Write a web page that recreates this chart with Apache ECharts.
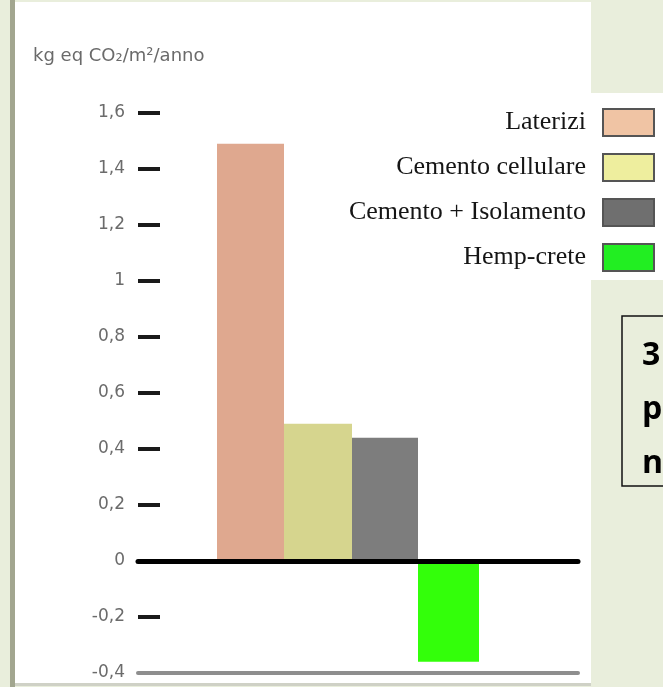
<!DOCTYPE html>
<html>
<head>
<meta charset="utf-8">
<script src="https://cdn.jsdelivr.net/npm/echarts@6/dist/echarts.min.js"></script>
<style>
  html, body { margin: 0; padding: 0; background: #e9eedc; }
  #chart { width: 663px; height: 687px; }
</style>
</head>
<body>
<div id="chart"></div>
<script>
  // materiali e valori (kg eq CO2/m2/anno)
  var materiali = ['Laterizi', 'Cemento cellulare', 'Cemento + Isolamento', 'Hemp-crete'];
  var valori = [1.49, 0.49, 0.44, -0.36];
  var coloriBarre = ['#dfa88f', '#d6d58e', '#7d7d7d', '#33ff0a'];
  var coloriLegenda = ['#f0c4a4', '#eeee9e', '#6f6f6f', '#22ee22'];
  var larghezze = [67, 68, 66, 61];
  // tacche dell'asse y (la -0,4 e' coperta dalla linea grigia)
  var yTacche = [-0.2, 0, 0.2, 0.4, 0.6, 0.8, 1, 1.2, 1.4, 1.6];
  var yMin = -0.4, yMax = 1.6, yStep = 0.2;

  var myChart = echarts.init(document.getElementById('chart'));

  // etichette con la virgola decimale
  function fmt(v) {
    return String(parseFloat(v.toFixed(1))).replace('.', ',');
  }

  var series = materiali.map(function (nome, i) {
    return {
      name: nome,
      type: 'bar',
      xAxisIndex: 2,
      yAxisIndex: 1,
      barWidth: larghezze[i],
      barGap: '0%',
      data: [valori[i]],
      itemStyle: { color: coloriBarre[i] },
      z: 2
    };
  });

  var option = {
    backgroundColor: '#e9eedc',
    animation: false,
    title: {
      text: 'kg eq CO₂/m²/anno',
      left: 33,
      top: 47,
      padding: 0,
      textStyle: { fontFamily: 'DejaVu Sans', fontSize: 18, fontWeight: 'normal', color: '#6a6a6a' }
    },
    legend: {
      orient: 'vertical',
      align: 'right',
      right: 8,
      top: 108,
      padding: 0,
      itemWidth: 51,
      itemHeight: 27,
      itemGap: 16,
      selectedMode: false,
      icon: 'rect',
      textStyle: { fontFamily: 'Liberation Serif', fontSize: 26, color: '#151515', padding: [0, 12, 0, 0], lineHeight: 27 },
      data: materiali.map(function (nome, i) {
        return { name: nome, itemStyle: { color: coloriLegenda[i], borderColor: '#555', borderWidth: 2 } };
      })
    },
    grid: [
      { left: 138, top: 113, width: 440, height: 560 },
      { left: 138, top: 113, width: 420, height: 560 }
    ],
    xAxis: [
      {
        gridIndex: 0, type: 'category', data: [''], position: 'top', z: 3,
        axisLine: { onZero: true, lineStyle: { color: '#000', width: 5 } },
        axisTick: { show: false }, axisLabel: { show: false }
      },
      {
        gridIndex: 0, type: 'category', data: [''], position: 'bottom', z: 3,
        axisLine: { onZero: false, lineStyle: { color: '#8e8e8e', width: 4 } },
        axisTick: { show: false }, axisLabel: { show: false }
      },
      { gridIndex: 1, type: 'category', data: [''], show: false }
    ],
    yAxis: [
      {
        gridIndex: 0, type: 'value', min: yMin, max: yMax, interval: yStep,
        axisLine: { show: false },
        axisTick: { show: true, inside: true, length: 22, customValues: yTacche, lineStyle: { color: '#1a1a1a', width: 4 } },
        axisLabel: { margin: 13, formatter: fmt, fontFamily: 'DejaVu Sans', fontSize: 17, color: '#6b6b6b' },
        splitLine: { show: false }
      },
      { gridIndex: 1, type: 'value', min: yMin, max: yMax, interval: yStep, show: false, splitLine: { show: false } }
    ],
    graphic: [
      { type: 'rect', z: -10, shape: { x: 10, y: 0, width: 5, height: 687 }, style: { fill: '#a2a68f' } },
      { type: 'rect', z: -10, shape: { x: 15, y: 2, width: 576, height: 681 }, style: { fill: '#ffffff' } },
      { type: 'rect', z: -10, shape: { x: 15, y: 683, width: 576, height: 3 }, style: { fill: '#cfd1c6' } },
      { type: 'rect', z: -10, shape: { x: 591, y: 93, width: 72, height: 187 }, style: { fill: '#ffffff' } },
      { type: 'rect', z: 5, shape: { x: 622, y: 316, width: 80, height: 170 }, style: { fill: 'none', stroke: '#111', lineWidth: 1.5 } },
      { type: 'text', z: 5, x: 642, y: 340, style: { text: '3', font: 'bold 32px "Open Sans"', fill: '#000' } },
      { type: 'text', z: 5, x: 642, y: 394, style: { text: 'p', font: 'bold 32px "Open Sans"', fill: '#000' } },
      { type: 'text', z: 5, x: 642, y: 448, style: { text: 'n', font: 'bold 32px "Open Sans"', fill: '#000' } }
    ],
    series: series
  };

  myChart.setOption(option);
</script>
</body>
</html>
